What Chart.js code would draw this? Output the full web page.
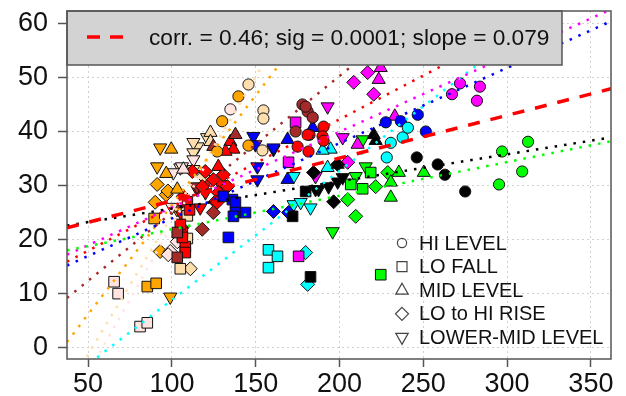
<!DOCTYPE html>
<html>
<head>
<meta charset="utf-8">
<script src="https://cdn.jsdelivr.net/npm/chart.js@4.4.0/dist/chart.umd.min.js"></script>
<style>
  html, body { margin: 0; padding: 0; background: #fff; }
</style>
</head>
<body>
<canvas id="chartScatter" width="626" height="396"></canvas>
<script>
// axis ranges and tick labels
const xRange = [37.4, 362];
const yRange = [-2.1, 62.3];
const xTicks = [50, 100, 150, 200, 250, 300, 350];
const yTicks = [0, 10, 20, 30, 40, 50, 60];

// shape categories (bottom legend)
const shapeNames = ['HI LEVEL', 'LO FALL', 'MID LEVEL', 'LO to HI RISE', 'LOWER-MID LEVEL'];

// points: [group, x, y]
const hiLevel = [
  ['orange', 139.7, 46.5], ['orange', 130, 41.9], ['orange', 145.7, 37.4], ['orange', 127, 36.3],
  ['bisque', 145.7, 48.7], ['bisque', 154.6, 43.9], ['bisque', 154.6, 42.4], ['bisque', 154, 36.5],
  ['mistyrose', 134.9, 44.1],
  ['red', 190.5, 40.9], ['red', 189.9, 39.1], ['red', 182.1, 39.4], ['red', 175, 37.2], ['red', 181.5, 36.3], ['red', 190.5, 38.3], ['red', 181, 39.4],
  ['brown', 177.9, 45], ['brown', 181, 43.7], ['brown', 184, 42.6], ['brown', 173.8, 40], ['brown', 179.8, 44.6],
  ['blue', 227.6, 41.7], ['blue', 236.6, 41.9], ['blue', 246.7, 43.1], ['blue', 251.5, 40],
  ['cyan', 230.6, 37.9], ['cyan', 237.7, 38.9], ['cyan', 240.8, 40.7], ['cyan', 228.2, 35.2],
  ['magenta', 271.9, 48.9], ['magenta', 283.8, 48.3], ['magenta', 267.1, 46.9], ['magenta', 282, 45.7],
  ['black', 246.1, 35.2], ['black', 258.6, 33.9], ['black', 262.9, 32], ['black', 275, 28.9],
  ['green', 297, 36.3], ['green', 312.5, 38.1], ['green', 309, 32.6], ['green', 295.2, 30.2]
];
const loFall = [
  ['orange', 85.3, 11.3], ['orange', 90.6, 11.9], ['orange', 89.4, 23.9],
  ['bisque', 109.2, 24.4], ['bisque', 109.2, 20.2], ['bisque', 105, 14.6],
  ['mistyrose', 65.5, 12.2], ['mistyrose', 67.9, 10], ['mistyrose', 81, 3.9], ['mistyrose', 85.3, 4.6],
  ['red', 108, 18.7], ['red', 106.2, 21.3], ['red', 105, 22.8], ['red', 109.2, 27], ['red', 108, 17.6], ['red', 106.2, 20.4], ['red', 110.5, 25.5],
  ['brown', 103.2, 16.7], ['brown', 103.2, 21.3],
  ['blue', 136.1, 27.4], ['blue', 137.9, 26.9], ['blue', 137.9, 25], ['blue', 136.7, 24.3], ['blue', 143.9, 25], ['blue', 133.7, 20.4], ['blue', 130.7, 28],
  ['cyan', 157.6, 18.1], ['cyan', 163, 16.9], ['cyan', 157.6, 14.8],
  ['magenta', 173.8, 41.7], ['magenta', 169.6, 34.3], ['magenta', 175.6, 16.9],
  ['black', 179.8, 28.9], ['black', 172, 24.3], ['black', 182.7, 13.1],
  ['green', 206.7, 30.2], ['green', 213.8, 29.4], ['green', 218.6, 32.4], ['green', 224.6, 13.5]
];
const midLevel = [
  ['orange', 99.6, 36.7], ['orange', 96.6, 32.2], ['orange', 103.2, 29.3],
  ['bisque', 123, 39.8], ['bisque', 123, 38.1],
  ['mistyrose', 106.8, 33],
  ['red', 134.9, 38.1], ['red', 136.7, 36.7], ['red', 132, 36.3], ['red', 127.7, 33.5],
  ['brown', 124.7, 37.2], ['brown', 137.9, 39.4],
  ['blue', 169, 38.5], ['blue', 184, 40.7], ['blue', 169, 31.1],
  ['cyan', 194.7, 36.7], ['cyan', 189.9, 36.5], ['cyan', 192.9, 33.3],
  ['magenta', 224.6, 51.8], ['magenta', 223.4, 49.6], ['magenta', 233, 42.8], ['magenta', 210.8, 37.6],
  ['black', 220.4, 39.4], ['black', 221.6, 38.3], ['black', 198.9, 33.9],
  ['green', 235.4, 32.4], ['green', 230.6, 30.6], ['green', 230.6, 27.8], ['green', 250.3, 32.4]
];
const loHiRise = [
  ['orange', 96.6, 28.3], ['orange', 90, 26.9], ['orange', 93, 17.8], ['orange', 91.2, 30.2], ['orange', 97.6, 29],
  ['bisque', 111, 14.6], ['bisque', 118.7, 31.7],
  ['mistyrose', 103.2, 19.6], ['mistyrose', 99, 17.8], ['mistyrose', 97.8, 17.2],
  ['red', 124.7, 31.1], ['red', 130.7, 32], ['red', 127.7, 28.7], ['red', 118.1, 29.8], ['red', 119.9, 32.6],
  ['red', 125.9, 27], ['red', 106.8, 28], ['red', 112.2, 32.6], ['red', 133.1, 29.8], ['red', 127, 26.9],
  ['brown', 118.1, 21.9], ['brown', 124.7, 25], ['brown', 106, 22.2],
  ['blue', 160.6, 25.2], ['blue', 169.6, 25],
  ['cyan', 179.8, 17.6], ['cyan', 181, 11.7],
  ['magenta', 216.8, 50.9], ['magenta', 208.5, 49.1], ['magenta', 220.4, 46.9], ['magenta', 204.9, 34.3],
  ['black', 196.5, 27], ['black', 198.9, 33.9], ['black', 184.5, 32.4],
  ['green', 221.6, 29.8], ['green', 228.8, 32.4], ['green', 204.9, 27.4], ['green', 209.7, 24.3]
];
const lowerMid = [
  ['orange', 93, 37], ['orange', 91.2, 33.5], ['orange', 99, 9.4], ['orange', 103, 25.6],
  ['bisque', 115.2, 37.2], ['bisque', 121, 38.9], ['bisque', 112.8, 38], ['bisque', 112.8, 36.1], ['bisque', 112.8, 33], ['bisque', 105, 33.3],
  ['mistyrose', 106, 33.5], ['mistyrose', 100.8, 32.4], ['mistyrose', 100, 26], ['mistyrose', 112.8, 34.8],
  ['red', 120, 28.7], ['red', 116.9, 25.9], ['red', 121.7, 31.1], ['red', 128.9, 30.2], ['red', 115.1, 29.3], ['red', 106, 24.6],
  ['brown', 115, 29.8],
  ['blue', 148.6, 39.1], ['blue', 149.8, 37.6], ['blue', 160.6, 36.7], ['blue', 151, 33.5], ['blue', 151, 31.1], ['blue', 160.6, 37],
  ['cyan', 172.6, 26.5], ['cyan', 182.7, 25.9], ['cyan', 172.6, 31.7], ['cyan', 176.8, 26.9],
  ['magenta', 192.9, 44.6], ['magenta', 201.9, 38.9], ['magenta', 185.7, 31.7],
  ['black', 187.5, 29.3], ['black', 193.5, 29.8], ['black', 198.9, 30.7], ['black', 201.9, 31.5], ['black', 185.7, 29.3],
  ['green', 215.6, 33.5], ['green', 209.7, 31.7], ['green', 195.9, 21.5], ['green', 213.8, 38.5]
];

// per-group fit lines: y at x = xRange[0] and at x = xRange[1]
const fitGroups = ['black', 'green', 'magenta', 'red', 'blue', 'cyan', 'brown', 'orange', 'bisque', 'mistyrose'];
const fitStartY = [22.6, 18.0, 17.2, 15.9, 15.2, -6.1, 9.2, 1.05, -7.7, -11.7];
const fitEndY   = [38.9, 38.2, 62.6, 68.5, 60.4, 71.4, 91.2, 132.6, 158.8, 166.8];
// overall fit
const overallFit = [22.2, 47.9];
const fitLabel = 'corr. = 0.46; sig = 0.0001; slope = 0.079';

// styles
const groupColors = {
  orange: '#FFA500', bisque: '#FFDEAD', mistyrose: '#FFE4E1', red: '#FF0000', brown: '#A52A2A',
  blue: '#0000FF', cyan: '#00FFFF', magenta: '#FF00FF', black: '#000000', green: '#00FF00'
};
const shapeStyles = [
  { data: hiLevel,  pointStyle: 'circle',   radius: 5.6, rotation: 0 },
  { data: loFall,   pointStyle: 'rect',     radius: 7.5, rotation: 0 },
  { data: midLevel, pointStyle: 'triangle', radius: 7.6, rotation: 0 },
  { data: loHiRise, pointStyle: 'rectRot',  radius: 7,   rotation: 0 },
  { data: lowerMid, pointStyle: 'triangle', radius: 7.6, rotation: 180 }
];
const FONT = '"Liberation Sans", Arial, sans-serif';

let datasets = [];

// overall dashed line on top
datasets.push({
  type: 'line', order: -1,
  data: [{ x: xRange[0], y: overallFit[0] }, { x: xRange[1], y: overallFit[1] }],
  borderColor: '#FF0000', borderWidth: 3.5, borderDash: [12, 11],
  pointRadius: 0, fill: false, showLine: true
});

// dotted group lines
for (let i = 0; i < fitGroups.length; i++) {
  datasets.push({
    type: 'line', order: 0,
    data: [{ x: xRange[0], y: fitStartY[i] }, { x: xRange[1], y: fitEndY[i] }],
    borderColor: groupColors[fitGroups[i]], borderWidth: 2.5, borderDash: [2.5, 7],
    pointRadius: 0, fill: false, showLine: true
  });
}

// point datasets, one per shape
shapeStyles.forEach((s, k) => {
  datasets.push({
    type: 'scatter', order: 1 + k,
    data: s.data.map(p => ({ x: p[1], y: p[2] })),
    backgroundColor: s.data.map(p => groupColors[p[0]]),
    borderColor: '#111',
    borderWidth: 1,
    pointStyle: s.pointStyle,
    pointRadius: s.radius,
    pointRotation: s.rotation,
    pointHoverRadius: s.radius
  });
});

// little outline symbols for the bottom legend
function drawSymbol(ctx, type, x, y) {
  ctx.beginPath();
  if (type === 0) {
    ctx.arc(x, y, 4.6, 0, Math.PI * 2);
  } else if (type === 1) {
    ctx.rect(x - 5, y - 5, 10, 10);
  } else if (type === 2) {
    ctx.moveTo(x, y - 7); ctx.lineTo(x + 6.2, y + 4); ctx.lineTo(x - 6.2, y + 4); ctx.closePath();
  } else if (type === 3) {
    ctx.moveTo(x, y - 6.5); ctx.lineTo(x + 6.5, y); ctx.lineTo(x, y + 6.5); ctx.lineTo(x - 6.5, y); ctx.closePath();
  } else {
    ctx.moveTo(x, y + 7); ctx.lineTo(x + 6.2, y - 4); ctx.lineTo(x - 6.2, y - 4); ctx.closePath();
  }
  ctx.stroke();
}

const overlay = {
  id: 'overlay',
  afterDatasetsDraw(chart) {
    const ctx = chart.ctx;
    const a = chart.chartArea;
    ctx.save();

    // top legend box
    ctx.fillStyle = '#d3d3d3';
    ctx.strokeStyle = '#555';
    ctx.lineWidth = 1.5;
    ctx.fillRect(a.left, a.top, 495, 54);
    ctx.strokeRect(a.left, a.top, 495, 54);
    ctx.strokeStyle = '#FF0000';
    ctx.lineWidth = 3.5;
    ctx.setLineDash([13, 10]);
    ctx.beginPath();
    ctx.moveTo(a.left + 20, a.top + 26);
    ctx.lineTo(a.left + 57, a.top + 26);
    ctx.stroke();
    ctx.setLineDash([]);
    ctx.fillStyle = '#111';
    ctx.font = '22.7px ' + FONT;
    ctx.textBaseline = 'middle';
    ctx.textAlign = 'left';
    ctx.fillText(fitLabel, a.left + 82, a.top + 28);

    // shape legend
    ctx.font = '20px ' + FONT;
    ctx.strokeStyle = '#444';
    ctx.lineWidth = 1.2;
    for (let i = 0; i < shapeNames.length; i++) {
      let y = a.top + 232 + i * 23.6;
      drawSymbol(ctx, i, a.left + 335, y);
      ctx.fillStyle = '#111';
      ctx.fillText(shapeNames[i], a.left + 352, y + 1);
    }

    // plot frame
    ctx.strokeStyle = '#555';
    ctx.lineWidth = 1.5;
    ctx.strokeRect(a.left, a.top, a.right - a.left, a.bottom - a.top);
    ctx.restore();
  }
};

new Chart(document.getElementById('chartScatter').getContext('2d'), {
  type: 'scatter',
  data: { datasets: datasets },
  options: {
    responsive: false,
    animation: false,
    devicePixelRatio: 1,
    layout: { padding: { top: 11, right: 15, left: 0, bottom: 0 } },
    plugins: { legend: { display: false }, tooltip: { enabled: false } },
    scales: {
      x: {
        type: 'linear', min: xRange[0], max: xRange[1],
        afterBuildTicks: s => { s.ticks = xTicks.map(v => ({ value: v })); },
        afterFit: s => { s.height = 37; s.paddingLeft = 0; s.paddingRight = 0; },
        grid: { color: '#d0d0d0', lineWidth: 1, tickLength: 8, tickColor: '#555', tickWidth: 1.5 },
        border: { display: false, dash: [2, 3] },
        ticks: { font: { size: 27, family: FONT }, color: '#111', padding: 1, maxRotation: 0 }
      },
      y: {
        type: 'linear', min: yRange[0], max: yRange[1],
        afterBuildTicks: s => { s.ticks = yTicks.map(v => ({ value: v })); },
        afterFit: s => { s.width = 67; s.paddingTop = 0; s.paddingBottom = 0; },
        grid: { color: '#d0d0d0', lineWidth: 1, tickLength: 9, tickColor: '#555', tickWidth: 1.5 },
        border: { display: false, dash: [2, 3] },
        ticks: { font: { size: 27, family: FONT }, color: '#111', padding: 10 }
      }
    }
  },
  plugins: [overlay]
});
</script>
</body>
</html>
